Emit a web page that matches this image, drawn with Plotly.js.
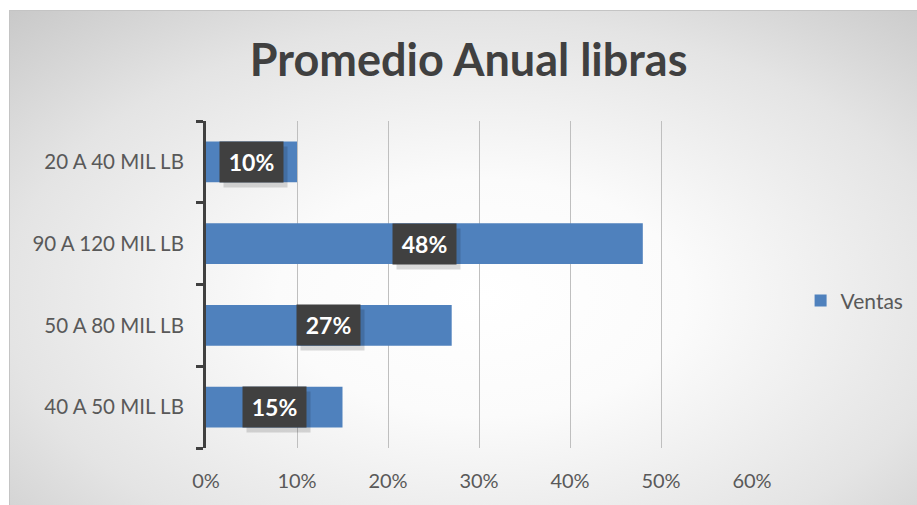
<!DOCTYPE html>
<html>
<head>
<meta charset="utf-8">
<script src="https://cdn.plot.ly/plotly-3.0.1.min.js"></script>
<style>
  html, body { margin: 0; padding: 0; background: #ffffff; }
  #bg {
    position: absolute; left: 9px; top: 10px; width: 908px; height: 495px;
    box-sizing: border-box; border-top: 1px solid #c4c4c4; border-left: 1px solid #c4c4c4;
    background: radial-gradient(ellipse 75% 80% at 52% 58%, #ffffff 0%, #fbfbfb 30%, #e4e4e4 70%, #c9c9c9 100%);
  }
  #chart { position: absolute; left: 0; top: 0; width: 917px; height: 505px; }
</style>
</head>
<body>
<div id="bg"></div>
<div id="chart"></div>
<script>
// Data (bottom to top, as Plotly stacks categories)
const categories = ["40 A 50 MIL LB", "50 A 80 MIL LB", "90 A 120 MIL LB", "20 A 40 MIL LB"];
const ventas = [0.15, 0.27, 0.48, 0.10];
const seriesName = "Ventas";
const xTickVals = [0, 0.1, 0.2, 0.3, 0.4, 0.5, 0.6];

const textColor = "#595959";
const font = "Lato, 'Open Sans', sans-serif";

const trace = {
  type: "bar",
  orientation: "h",
  y: categories,
  x: ventas,
  name: seriesName,
  marker: { color: "#4F81BD" },
  hoverinfo: "skip",
  showlegend: true
};

const annotations = [];
categories.forEach((c, i) => {
  const label = Math.round(ventas[i] * 100) + "%";
  // soft shadow
  annotations.push({
    x: ventas[i] / 2, y: c, xref: "x", yref: "y",
    text: "", showarrow: false,
    width: 63, height: 40, borderpad: 0,
    bgcolor: "rgba(0,0,0,0.14)", xshift: 4, yshift: -5
  });
  annotations.push({
    x: ventas[i] / 2, y: c, xref: "x", yref: "y",
    text: "<b>" + label + "</b>", showarrow: false,
    width: 63, height: 40, borderpad: 0,
    bgcolor: "#404040",
    font: { family: font, size: 23, color: "#ffffff" }
  });
});

const layout = {
  width: 917, height: 505,
  paper_bgcolor: "rgba(0,0,0,0)",
  plot_bgcolor: "rgba(0,0,0,0)",
  margin: { l: 206, r: 165, t: 121, b: 57, autoexpand: false },
  title: {
    text: "<b>Promedio Anual libras</b>",
    font: { family: font, size: 45, color: "#404040" },
    x: 0.481, xanchor: "center", xref: "paper",
    y: 0.88, yanchor: "middle", yref: "container"
  },
  bargap: 0.5,
  xaxis: {
    range: [0, 0.6],
    tickvals: xTickVals,
    tickformat: ".0%",
    showgrid: true, gridcolor: "#bfbfbf", gridwidth: 1,
    zeroline: false, showline: false, ticks: "",
    tickfont: { family: font, size: 20, color: textColor },
    ticklabelstandoff: 19,
    automargin: false,
    fixedrange: true
  },
  yaxis: {
    type: "category",
    categoryorder: "array", categoryarray: categories,
    showline: true, linecolor: "#404040", linewidth: 3,
    ticks: "outside", tickson: "boundaries", ticklen: 7, tickwidth: 3, tickcolor: "#404040",
    showgrid: false, zeroline: false,
    tickfont: { family: font, size: 20.5, color: textColor },
    ticklabelstandoff: 15,
    automargin: false,
    fixedrange: true
  },
  legend: {
    x: 1.089, xanchor: "left", y: 0.45, yanchor: "middle",
    font: { family: font, size: 21, color: textColor },
    bgcolor: "rgba(0,0,0,0)",
    itemwidth: 30
  },
  annotations: annotations
};

Plotly.newPlot("chart", [trace], layout, { displayModeBar: false, staticPlot: true });
</script>
</body>
</html>
